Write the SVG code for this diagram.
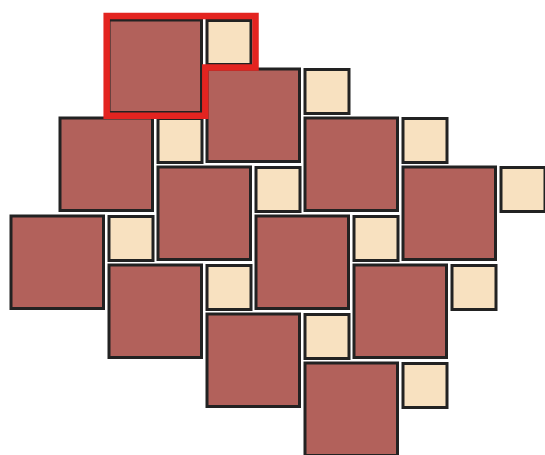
<svg xmlns="http://www.w3.org/2000/svg" width="545" height="455" viewBox="0 0 545 455">
<style>
.L{fill:#b2615b;stroke:#222;stroke-width:3}
.S{fill:#f8e1c0;stroke:#222;stroke-width:3}
.hl{fill:none;stroke:#e32420;stroke-width:6.5;stroke-linejoin:miter}
</style>
<rect width="545" height="455" fill="#fff"/>
<g id="large">
<rect class="L" x="109" y="20" width="92.5" height="92.5"/>
<rect class="L" x="207" y="69" width="92.5" height="92.5"/>
<rect class="L" x="305" y="118" width="92.5" height="92.5"/>
<rect class="L" x="403" y="167" width="92.5" height="92.5"/>
<rect class="L" x="60" y="118" width="92.5" height="92.5"/>
<rect class="L" x="158" y="167" width="92.5" height="92.5"/>
<rect class="L" x="256" y="216" width="92.5" height="92.5"/>
<rect class="L" x="354" y="265" width="92.5" height="92.5"/>
<rect class="L" x="11" y="216" width="92.5" height="92.5"/>
<rect class="L" x="109" y="265" width="92.5" height="92.5"/>
<rect class="L" x="207" y="314" width="92.5" height="92.5"/>
<rect class="L" x="305" y="363" width="92.5" height="92.5"/>
</g>
<g id="small">
<rect class="S" x="207" y="20.5" width="44" height="44"/>
<rect class="S" x="305" y="69.5" width="44" height="44"/>
<rect class="S" x="403" y="118.5" width="44" height="44"/>
<rect class="S" x="501" y="167.5" width="44" height="44"/>
<rect class="S" x="158" y="118.5" width="44" height="44"/>
<rect class="S" x="256" y="167.5" width="44" height="44"/>
<rect class="S" x="354" y="216.5" width="44" height="44"/>
<rect class="S" x="452" y="265.5" width="44" height="44"/>
<rect class="S" x="109" y="216.5" width="44" height="44"/>
<rect class="S" x="207" y="265.5" width="44" height="44"/>
<rect class="S" x="305" y="314.5" width="44" height="44"/>
<rect class="S" x="403" y="363.5" width="44" height="44"/>
</g>
<g id="highlight">
<path class="hl" d="M106.7,16 H255.5 V67.5 H205.3 V115.7 H106.7 Z"/>
</g>
</svg>
